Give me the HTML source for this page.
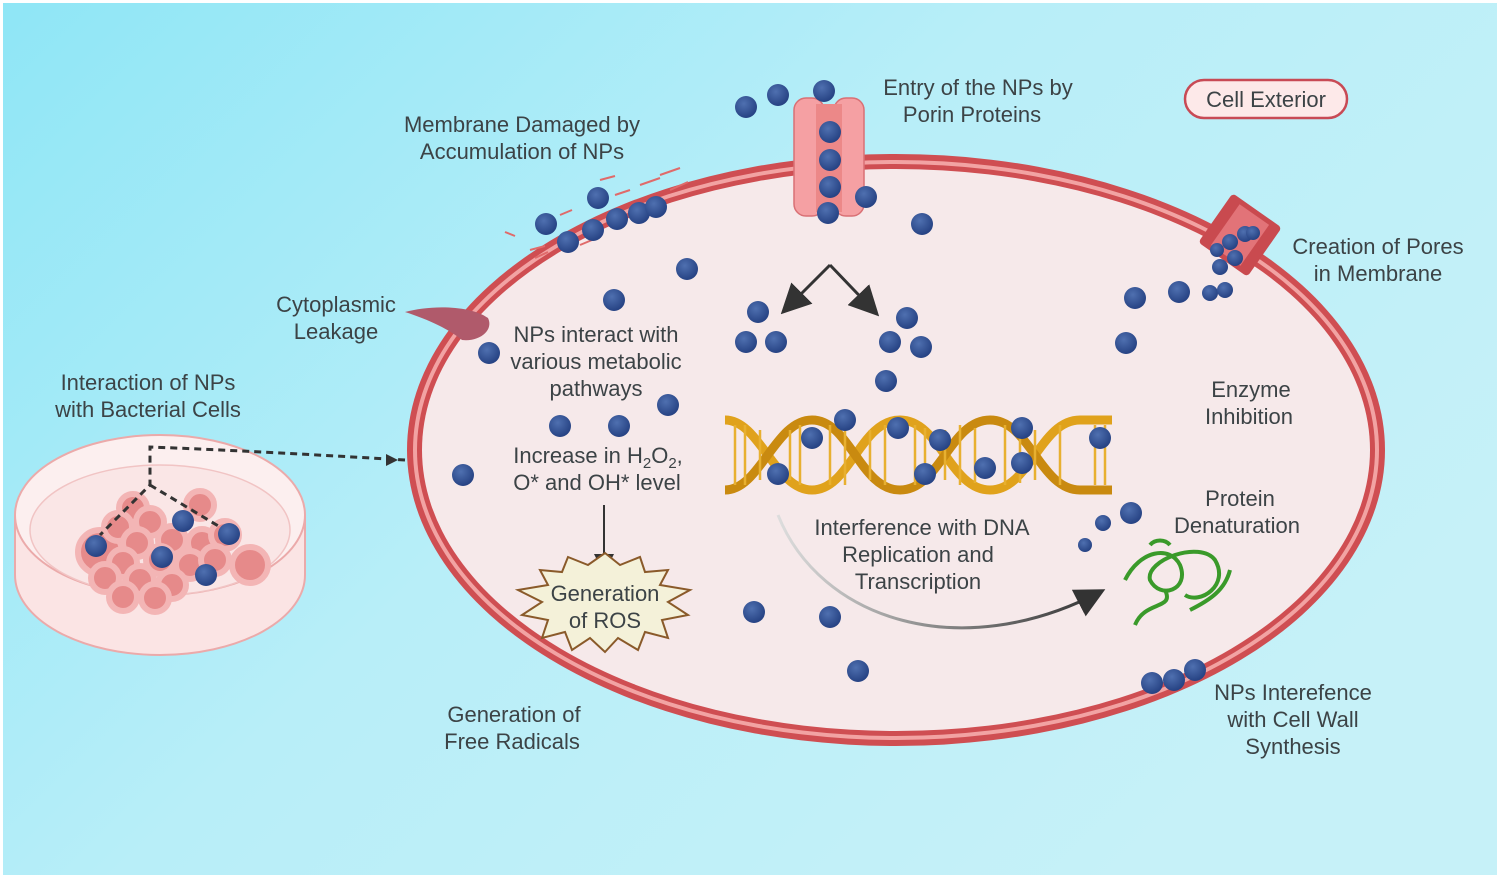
<!DOCTYPE html>
<html><head><meta charset="utf-8"><style>
html,body{margin:0;padding:0;background:#fff}
svg{display:block}
text{font-family:"Liberation Sans",sans-serif;fill:#3c4346;font-size:22px}
</style></head><body>
<svg width="1500" height="880" viewBox="0 0 1500 880" xmlns="http://www.w3.org/2000/svg">
<defs>
<linearGradient id="bg" x1="0" y1="0" x2="1" y2="0.6">
<stop offset="0" stop-color="#8fe6f6"/><stop offset="0.5" stop-color="#b8eef8"/><stop offset="1" stop-color="#c6f1f8"/>
</linearGradient>
<radialGradient id="np" cx="0.4" cy="0.35" r="0.7">
<stop offset="0" stop-color="#4f70b0"/><stop offset="1" stop-color="#233f80"/>
</radialGradient>
<marker id="ah" markerWidth="10" markerHeight="10" refX="8" refY="5" orient="auto"><path d="M0,0 L10,5 L0,10 z" fill="#333"/></marker>
<linearGradient id="curve" x1="0" y1="0" x2="1" y2="0"><stop offset="0" stop-color="#ddd"/><stop offset="1" stop-color="#333"/></linearGradient>
</defs>
<rect x="3" y="3" width="1494" height="872" fill="url(#bg)"/>
<!-- cell -->
<ellipse cx="896" cy="450" rx="489" ry="296" fill="#cf4e52"/>
<ellipse cx="896" cy="450" rx="483" ry="290" fill="#f2a3a3"/>
<ellipse cx="896" cy="450" rx="479" ry="286" fill="#cf4e52"/>
<ellipse cx="896" cy="450" rx="474" ry="281" fill="#f6e9ea"/>
<!-- porin -->
<rect x="794" y="98" width="30" height="118" rx="12" fill="#f5a0a3" stroke="#d97075" stroke-width="1.5"/>
<rect x="834" y="98" width="30" height="118" rx="12" fill="#f5a0a3" stroke="#d97075" stroke-width="1.5"/>
<rect x="816" y="104" width="26" height="108" fill="#ec8888"/>
<!-- pore right -->
<g transform="rotate(35 1240 235)"><rect x="1210" y="205" width="60" height="60" rx="4" fill="#c94a4f"/><rect x="1222" y="210" width="36" height="50" fill="#e27378"/></g>
<!-- leakage -->
<path d="M405,312 C430,305 470,305 488,318 C494,330 480,342 462,340 C450,330 430,320 405,312z" fill="#b05a6b"/>
<!-- damage dashes -->
<g stroke="#e06a6a" stroke-width="2">
<line x1="505" y1="232" x2="515" y2="236"/><line x1="530" y1="250" x2="545" y2="246"/><line x1="560" y1="215" x2="572" y2="210"/><line x1="600" y1="180" x2="615" y2="176"/><line x1="615" y1="195" x2="630" y2="190"/><line x1="640" y1="185" x2="660" y2="178"/><line x1="660" y1="175" x2="680" y2="168"/><line x1="580" y1="245" x2="592" y2="240"/><line x1="535" y1="258" x2="548" y2="252"/><line x1="670" y1="190" x2="688" y2="182"/>
</g>
<!-- arrows -->
<path d="M830,265 L785,310" stroke="#333" stroke-width="3" fill="none" marker-end="url(#ah)"/>
<path d="M830,265 L875,312" stroke="#333" stroke-width="3" fill="none" marker-end="url(#ah)"/>
<path d="M604,505 L604,570" stroke="#333" stroke-width="2" fill="none" marker-end="url(#ah)"/>
<path d="M778,515 C820,620 960,665 1100,592" stroke="url(#curve)" stroke-width="3" fill="none" marker-end="url(#ah)"/>
<!-- DNA -->
<g fill="none" stroke-width="9">
<path d="M725,420 C760,420 775,490 812,490 C850,490 860,420 900,420 C940,420 950,490 990,490 C1030,490 1040,420 1080,420 L1112,420" stroke="#e0a21c"/>
<path d="M725,490 C760,490 775,420 812,420 C850,420 860,490 900,490 C940,490 950,420 990,420 C1030,420 1040,490 1080,490 L1112,490" stroke="#c98a10"/>
</g>
<g stroke="#e8b030" stroke-width="2.5">
<path d="M735,425v60M745,425v60M760,430v50M790,430v50M800,425v60M830,425v60M845,425v60M870,430v50M885,425v60M915,425v60M925,428v55M945,430v50M960,425v60M975,428v55M1005,425v60M1020,428v55M1035,430v50M1060,425v60M1095,425v60M1105,425v60"/>
</g>
<!-- ROS star -->
<polygon points="605,553 620,565 640,557 645,572 668,570 660,585 690,590 668,602 688,615 662,620 668,638 645,632 638,650 618,638 605,652 590,638 572,650 565,632 542,638 548,620 522,615 542,602 518,590 548,585 540,570 562,572 568,557 588,565" fill="#f4f1d9" stroke="#8a5a2a" stroke-width="2"/>
<!-- protein -->
<g fill="none" stroke="#3a9a2a" stroke-width="4">
<path d="M1125,580 C1140,550 1170,545 1180,565 C1190,590 1160,600 1150,580 C1145,560 1200,540 1215,560 C1230,585 1200,605 1185,595"/>
<path d="M1135,625 C1145,600 1175,610 1165,590"/><path d="M1190,610 C1210,600 1225,590 1230,570"/>
<path d="M1150,545 c5,-6 15,-6 20,0"/>
</g>
<!-- petri -->
<ellipse cx="160" cy="575" rx="145" ry="80" fill="#fbe4e4" stroke="#ebaaaa" stroke-width="2"/>
<rect x="15" y="515" width="290" height="60" fill="#fbe4e4"/>
<line x1="15" y1="515" x2="15" y2="575" stroke="#ebaaaa" stroke-width="2"/><line x1="305" y1="515" x2="305" y2="575" stroke="#ebaaaa" stroke-width="2"/>
<ellipse cx="160" cy="515" rx="145" ry="80" fill="#fcefef" stroke="#ebaaaa" stroke-width="2"/>
<ellipse cx="160" cy="530" rx="130" ry="65" fill="#fae6e6" stroke="#f1c4c4" stroke-width="1.5"/>
<g fill="#e68a8a" stroke="#f3b5b5" stroke-width="6">
<circle cx="100" cy="552" r="22"/><circle cx="133" cy="508" r="14"/><circle cx="200" cy="505" r="14"/><circle cx="118" cy="527" r="14"/><circle cx="150" cy="522" r="14"/><circle cx="137" cy="543" r="14"/><circle cx="172" cy="540" r="14"/><circle cx="202" cy="543" r="14"/><circle cx="225" cy="535" r="14"/><circle cx="123" cy="563" r="14"/><circle cx="160" cy="560" r="14"/><circle cx="190" cy="565" r="14"/><circle cx="215" cy="560" r="14"/><circle cx="250" cy="565" r="18"/><circle cx="105" cy="578" r="14"/><circle cx="140" cy="580" r="14"/><circle cx="172" cy="585" r="14"/><circle cx="123" cy="597" r="14"/><circle cx="155" cy="598" r="14"/>
</g>
<path d="M405,460 C320,455 230,450 150,447 L150,485 L100,535 M150,485 L225,530" stroke="#333" stroke-width="3" stroke-dasharray="7,5" fill="none"/>
<path d="M398,460 l-12,-6 v12z" fill="#333"/>
<!-- NPs -->
<g fill="url(#np)">
<circle cx="746" cy="107" r="11"/><circle cx="778" cy="95" r="11"/><circle cx="824" cy="91" r="11"/>
<circle cx="830" cy="132" r="11"/><circle cx="830" cy="160" r="11"/><circle cx="830" cy="187" r="11"/><circle cx="828" cy="213" r="11"/><circle cx="866" cy="197" r="11"/>
<circle cx="598" cy="198" r="11"/><circle cx="546" cy="224" r="11"/><circle cx="568" cy="242" r="11"/><circle cx="593" cy="230" r="11"/><circle cx="617" cy="219" r="11"/><circle cx="639" cy="213" r="11"/><circle cx="656" cy="207" r="11"/>
<circle cx="687" cy="269" r="11"/><circle cx="614" cy="300" r="11"/><circle cx="489" cy="353" r="11"/><circle cx="922" cy="224" r="11"/>
<circle cx="758" cy="312" r="11"/><circle cx="746" cy="342" r="11"/><circle cx="776" cy="342" r="11"/><circle cx="907" cy="318" r="11"/><circle cx="890" cy="342" r="11"/><circle cx="921" cy="347" r="11"/><circle cx="886" cy="381" r="11"/>
<circle cx="668" cy="405" r="11"/><circle cx="560" cy="426" r="11"/><circle cx="619" cy="426" r="11"/><circle cx="463" cy="475" r="11"/>
<circle cx="1135" cy="298" r="11"/><circle cx="1179" cy="292" r="11"/><circle cx="1126" cy="343" r="11"/><circle cx="1210" cy="293" r="8"/><circle cx="1225" cy="290" r="8"/><circle cx="1220" cy="267" r="8"/><circle cx="1235" cy="258" r="8"/><circle cx="1230" cy="242" r="8"/><circle cx="1245" cy="234" r="8"/><circle cx="1253" cy="233" r="7"/><circle cx="1217" cy="250" r="7"/>
<circle cx="812" cy="438" r="11"/><circle cx="845" cy="420" r="11"/><circle cx="898" cy="428" r="11"/><circle cx="940" cy="440" r="11"/><circle cx="1022" cy="428" r="11"/><circle cx="1100" cy="438" r="11"/><circle cx="778" cy="474" r="11"/><circle cx="925" cy="474" r="11"/><circle cx="985" cy="468" r="11"/><circle cx="1022" cy="463" r="11"/>
<circle cx="1131" cy="513" r="11"/><circle cx="1103" cy="523" r="8"/><circle cx="1085" cy="545" r="7"/>
<circle cx="754" cy="612" r="11"/><circle cx="830" cy="617" r="11"/><circle cx="858" cy="671" r="11"/>
<circle cx="1152" cy="683" r="11"/><circle cx="1174" cy="680" r="11"/><circle cx="1195" cy="670" r="11"/>
<circle cx="96" cy="546" r="11"/><circle cx="183" cy="521" r="11"/><circle cx="229" cy="534" r="11"/><circle cx="162" cy="557" r="11"/><circle cx="206" cy="575" r="11"/>
</g>
<!-- Cell exterior label -->
<rect x="1185" y="80" width="162" height="38" rx="19" fill="#fde9e9" stroke="#c84a55" stroke-width="2.5"/>
<text x="1266" y="107" text-anchor="middle">Cell Exterior</text>
<g text-anchor="middle">
<text x="978" y="95">Entry of the  NPs  by</text><text x="972" y="122">Porin Proteins</text>
<text x="522" y="132">Membrane Damaged by</text><text x="522" y="159">Accumulation of NPs</text>
<text x="1378" y="254">Creation of Pores</text><text x="1378" y="281">in Membrane</text>
<text x="336" y="312">Cytoplasmic</text><text x="336" y="339">Leakage</text>
<text x="596" y="342">NPs  interact with</text><text x="596" y="369">various metabolic</text><text x="596" y="396">pathways</text>
<text x="148" y="390">Interaction  of NPs</text><text x="148" y="417">with Bacterial Cells</text>
<text x="1251" y="397">Enzyme</text><text x="1249" y="424">Inhibition</text>
<text x="598" y="463">Increase in H<tspan font-size="15" dy="5">2</tspan><tspan dy="-5">O</tspan><tspan font-size="15" dy="5">2</tspan><tspan dy="-5">,</tspan></text>
<text x="597" y="490">O* and OH* level</text>
<text x="1240" y="506">Protein</text><text x="1237" y="533">Denaturation</text>
<text x="922" y="535">Interference with DNA</text><text x="918" y="562">Replication and</text><text x="918" y="589">Transcription</text>
<text x="605" y="601">Generation</text><text x="605" y="628">of ROS</text>
<text x="514" y="722">Generation of</text><text x="512" y="749">Free Radicals</text>
<text x="1293" y="700">NPs Interefence</text><text x="1293" y="727">with Cell Wall</text><text x="1293" y="754">Synthesis</text>
</g>
</svg>
</body></html>
